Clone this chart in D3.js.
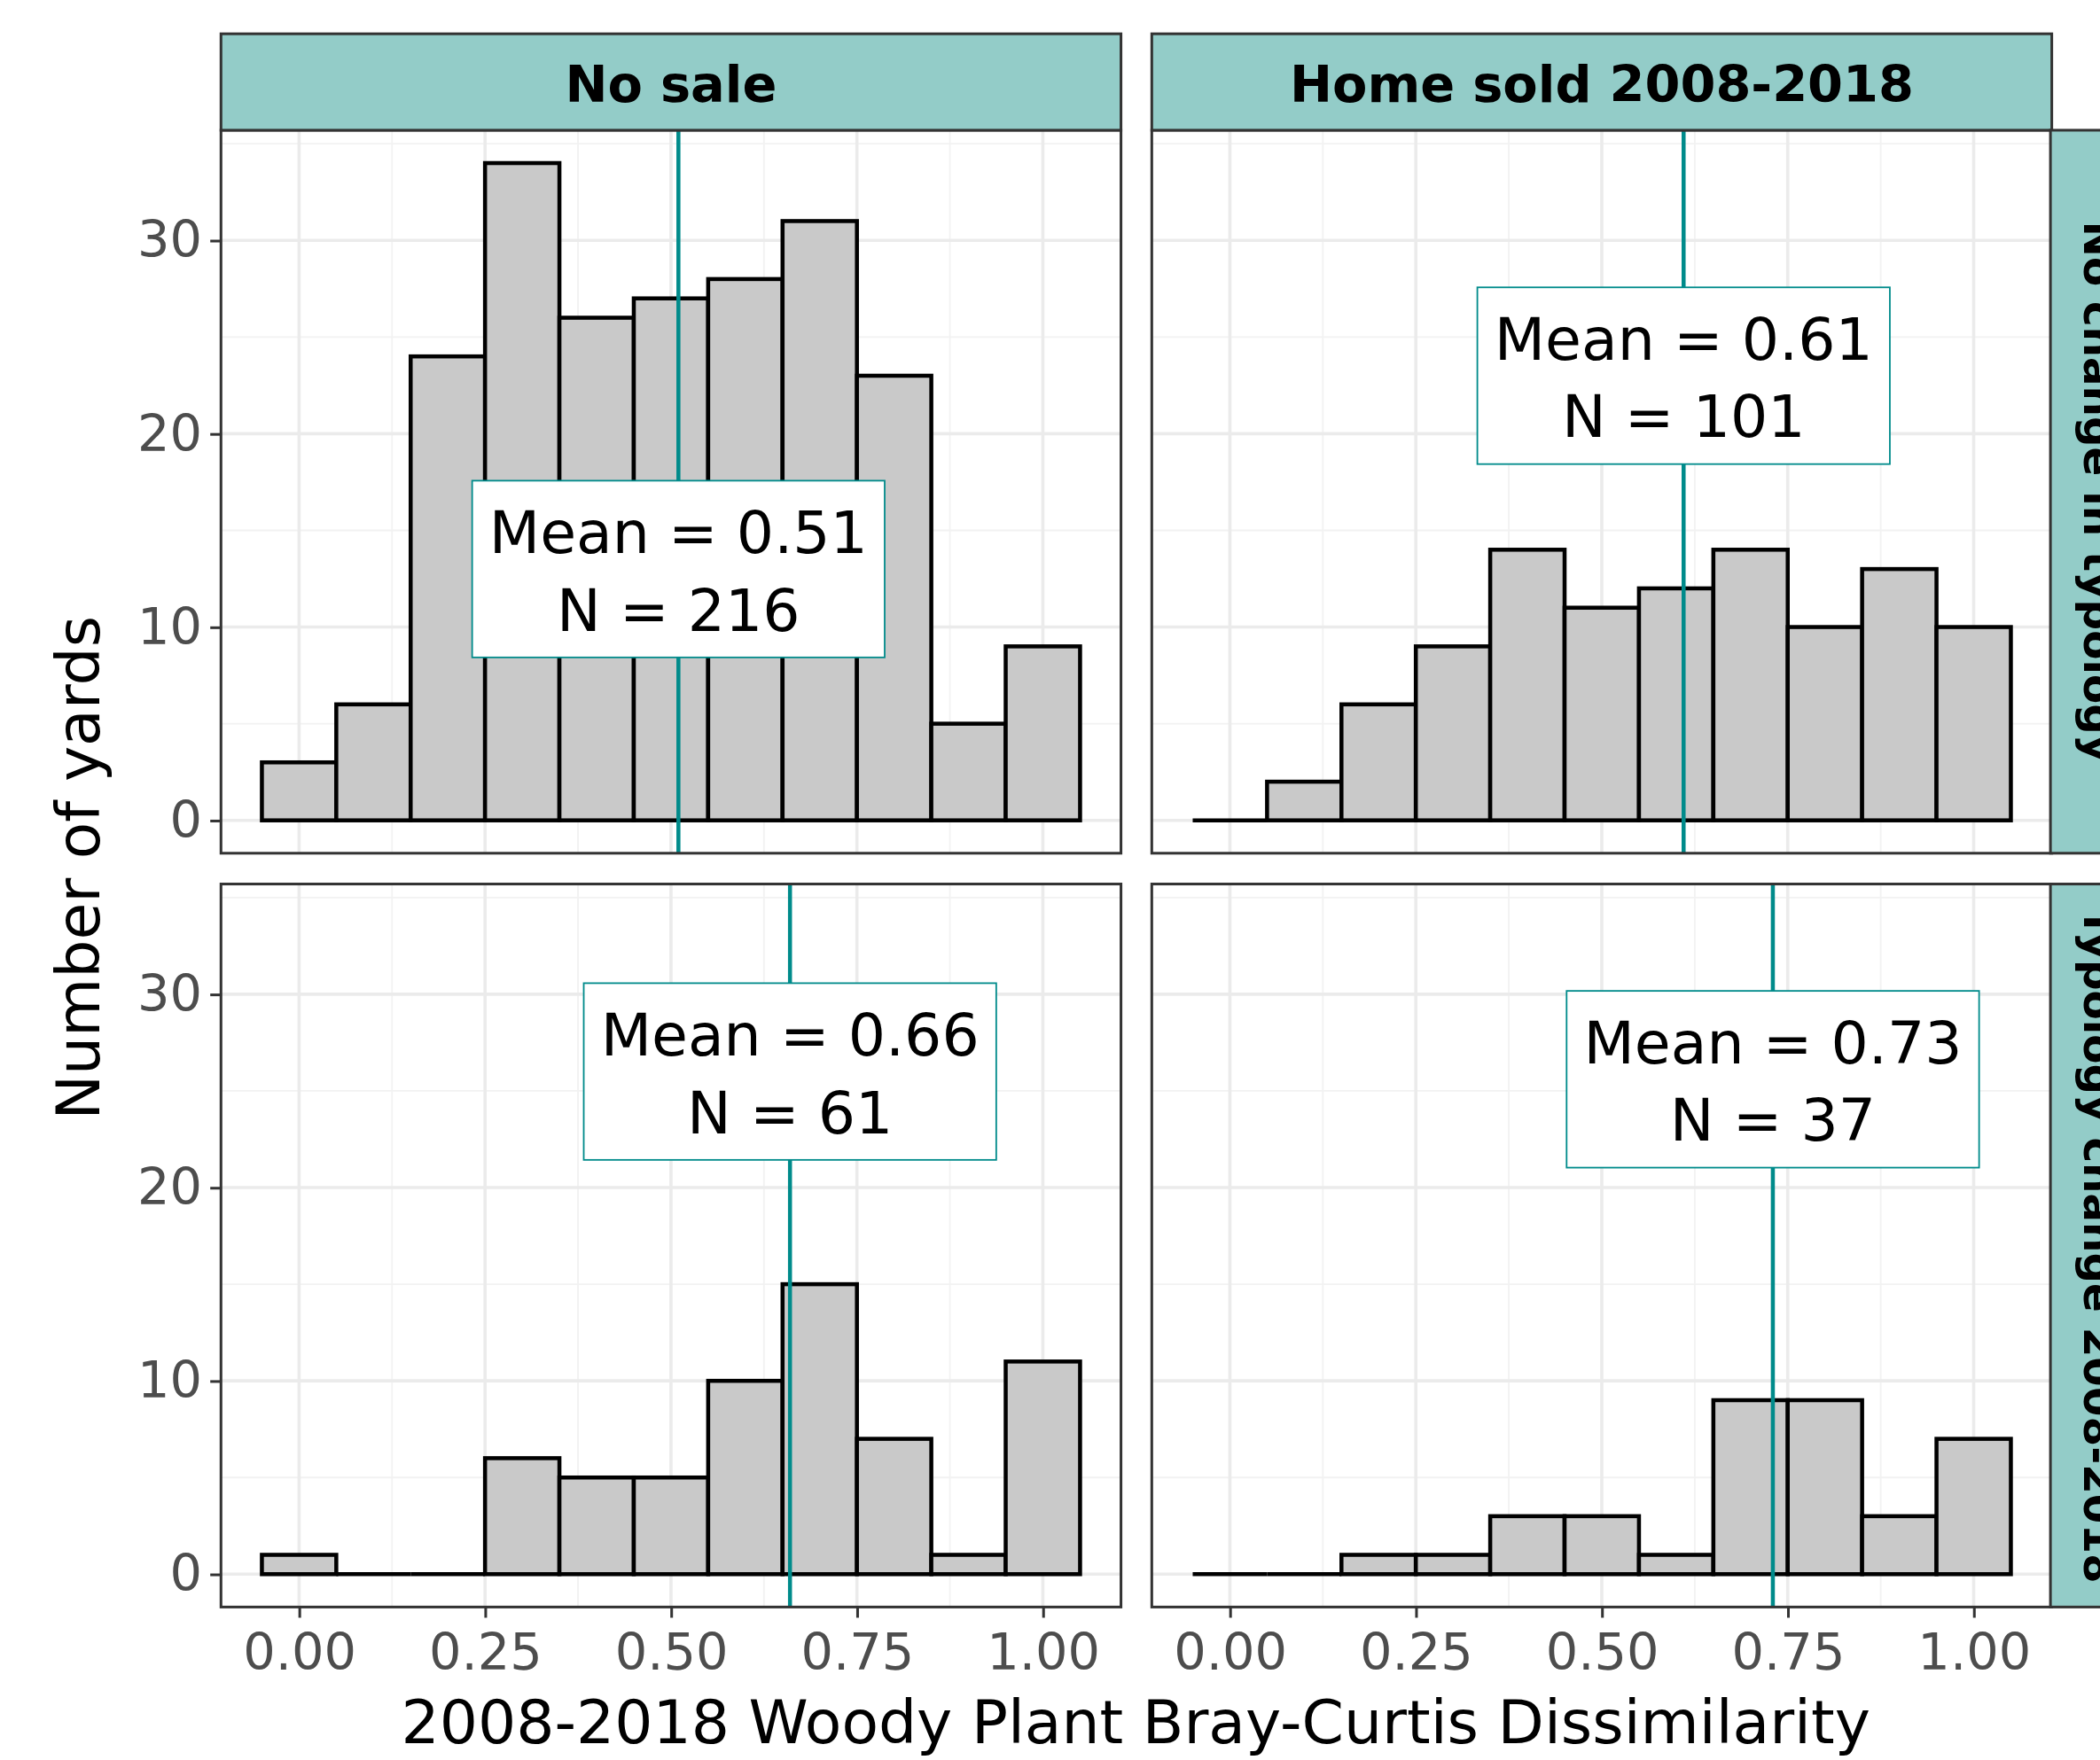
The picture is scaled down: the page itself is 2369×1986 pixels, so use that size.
<!DOCTYPE html>
<html lang="en">
<head>
<meta charset="UTF-8" />
<title>Woody plant dissimilarity</title>
<style>
  body { margin: 0; background: #fff; }
  text { font-family: "DejaVu Sans", sans-serif; }
</style>
<script src="https://d3js.org/d3.v7.min.js"></script>
</head>
<body>
<svg id="chart"></svg>
<script>
const binCenters = [0, 0.1, 0.2, 0.3, 0.4, 0.5, 0.6, 0.7, 0.8, 0.9, 1.0];
const colLabels = ['No sale', 'Home sold 2008-2018'];
const rowLabels = ['No change in typology', 'Typology change 2008-2018'];
// counts per panel: [row][col]
const counts = [
  [[3, 6, 24, 34, 26, 27, 28, 31, 23, 5, 9],
   [0, 2, 6, 9, 14, 11, 12, 14, 10, 13, 10]],
  [[1, 0, 0, 6, 5, 5, 10, 15, 7, 1, 11],
   [0, 0, 1, 1, 3, 3, 1, 9, 9, 3, 7]]
];
const means = [[0.51, 0.61], [0.66, 0.73]];
const ns = [[216, 101], [61, 37]];
const labelY = [[13, 23], [26, 25.6]];
const xTicks = [0, 0.25, 0.5, 0.75, 1];
const yTicks = [0, 10, 20, 30];

const svg = d3.select('#chart')
  .attr('width', 2369).attr('height', 1986)
  .attr('viewBox', '0 0 1568 1314');

const colX = [165, 860], panelW = 672;
const rowY = [97, 660], panelH = 540;

const x = d3.scaleLinear().domain([-0.105, 1.105]).range([0, panelW]);
const y = d3.scaleLinear().domain([-1.7, 35.7]).range([panelH, 0]);

for (let r = 0; r < 2; r++) {
  for (let c = 0; c < 2; c++) {
    const g = svg.append('g').attr('transform', `translate(${colX[c]},${rowY[r]})`);
    // grid
    const minorX = [0.125, 0.375, 0.625, 0.875];
    g.selectAll('.mx').data(minorX).join('line')
      .attr('x1', d => x(d)).attr('x2', d => x(d)).attr('y1', 0).attr('y2', panelH)
      .attr('stroke', '#F2F2F2').attr('stroke-width', 1.2);
    g.selectAll('.my').data([5, 15, 25, 35]).join('line')
      .attr('y1', d => y(d)).attr('y2', d => y(d)).attr('x1', 0).attr('x2', panelW)
      .attr('stroke', '#F2F2F2').attr('stroke-width', 1.2);
    g.selectAll('.gx').data(xTicks).join('line')
      .attr('x1', d => x(d)).attr('x2', d => x(d)).attr('y1', 0).attr('y2', panelH)
      .attr('stroke', '#EBEBEB').attr('stroke-width', 2.4);
    g.selectAll('.gy').data(yTicks).join('line')
      .attr('y1', d => y(d)).attr('y2', d => y(d)).attr('x1', 0).attr('x2', panelW)
      .attr('stroke', '#EBEBEB').attr('stroke-width', 2.4);
    // bars
    const bw = x(0.1) - x(0);
    g.selectAll('.bar').data(counts[r][c].filter(d => d > 0).map((d, k) => d))
    g.selectAll('.bar').data(counts[r][c]).join('rect')
      .attr('x', (d, i) => x(binCenters[i] - 0.05))
      .attr('width', bw)
      .attr('y', d => y(d))
      .attr('height', d => y(0) - y(d))
      .attr('fill', '#C9C9C9').attr('stroke', '#000').attr('stroke-width', 3);
    // zero-count bins drawn as flat lines
    g.selectAll('.zero').data(binCenters.filter((b, i) => counts[r][c][i] === 0)).join('line')
      .attr('x1', d => x(d - 0.05)).attr('x2', d => x(d + 0.05))
      .attr('y1', y(0)).attr('y2', y(0))
      .attr('stroke', '#000').attr('stroke-width', 3);
    // mean line
    g.append('line')
      .attr('x1', x(means[r][c])).attr('x2', x(means[r][c]))
      .attr('y1', 0).attr('y2', panelH)
      .attr('stroke', '#008B8B').attr('stroke-width', 3);
    // label
    const lx = x(means[r][c]), ly = y(labelY[r][c]);
    g.append('rect')
      .attr('x', lx - 154).attr('y', ly - 66).attr('width', 308).attr('height', 132)
      .attr('fill', '#fff').attr('stroke', '#008B8B').attr('stroke-width', 1.2);
    g.append('text').attr('x', lx).attr('y', ly - 12).attr('text-anchor', 'middle')
      .attr('font-size', 44).attr('fill', '#000').text(`Mean = ${means[r][c].toFixed(2)}`);
    g.append('text').attr('x', lx).attr('y', ly + 46).attr('text-anchor', 'middle')
      .attr('font-size', 44).attr('fill', '#000').text(`N = ${ns[r][c]}`);
    // border
    g.append('rect').attr('width', panelW).attr('height', panelH)
      .attr('fill', 'none').attr('stroke', '#333').attr('stroke-width', 2);
    // y axis on left column
    if (c === 0) {
      const ya = g.append('g').call(d3.axisLeft(y).tickValues(yTicks).tickSize(8).tickPadding(6));
      ya.select('.domain').remove();
      ya.selectAll('line').attr('stroke', '#333').attr('stroke-width', 2);
      ya.selectAll('text').attr('font-size', 38).attr('fill', '#4D4D4D')
        .style('font-family', '"DejaVu Sans", sans-serif');
    }
    if (r === 1) {
      const xa = g.append('g').attr('transform', `translate(0,${panelH})`)
        .call(d3.axisBottom(x).tickValues(xTicks).tickFormat(d3.format('.2f')).tickSize(8).tickPadding(12));
      xa.select('.domain').remove();
      xa.selectAll('line').attr('stroke', '#333').attr('stroke-width', 2);
      xa.selectAll('text').attr('font-size', 38).attr('fill', '#4D4D4D')
        .style('font-family', '"DejaVu Sans", sans-serif');
    }
  }
}

// column strips
colLabels.forEach((lab, c) => {
  svg.append('rect').attr('x', colX[c]).attr('y', 25).attr('width', panelW).attr('height', 72)
    .attr('fill', '#93CCC8').attr('stroke', '#333').attr('stroke-width', 2);
  svg.append('text').attr('x', colX[c] + panelW / 2).attr('y', 76).attr('text-anchor', 'middle')
    .attr('font-size', 38).attr('font-weight', 'bold').attr('fill', '#000').text(lab);
});
// row strips (partly outside the picture, as in the original)
rowLabels.forEach((lab, r) => {
  svg.append('rect').attr('x', 1531).attr('y', rowY[r]).attr('width', 72).attr('height', panelH)
    .attr('fill', '#93CCC8').attr('stroke', '#333').attr('stroke-width', 2);
  const cy = rowY[r] + panelH / 2;
  svg.append('text').attr('transform', `translate(1556,${cy}) rotate(90)`)
    .attr('text-anchor', 'middle').attr('font-size', 32).attr('font-weight', 'bold')
    .attr('fill', '#000').text(lab);
});

// axis titles
svg.append('text').attr('x', 848).attr('y', 1302).attr('text-anchor', 'middle')
  .attr('font-size', 45).attr('fill', '#000')
  .text('2008-2018 Woody Plant Bray-Curtis Dissimilarity');
svg.append('text').attr('transform', 'translate(74,648) rotate(-90)')
  .attr('text-anchor', 'middle').attr('font-size', 45).attr('fill', '#000')
  .text('Number of yards');
</script>
</body>
</html>
